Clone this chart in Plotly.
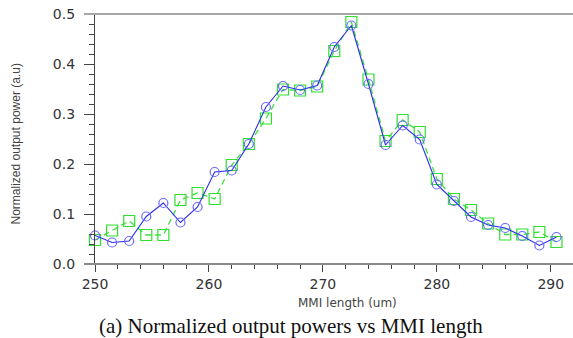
import plotly.graph_objects as go

# MMI length (um)
mmi_length = [250.0, 251.5, 253.0, 254.5, 256.0, 257.5, 259.0, 260.5, 262.0, 263.5,
              265.0, 266.5, 268.0, 269.5, 271.0, 272.5, 274.0, 275.5, 277.0, 278.5,
              280.0, 281.5, 283.0, 284.5, 286.0, 287.5, 289.0, 290.5]

# Series 1: blue circles, solid line
power_circles = [0.057, 0.043, 0.046, 0.095, 0.122, 0.083, 0.114, 0.184, 0.187, 0.240,
                 0.314, 0.356, 0.348, 0.357, 0.434, 0.477, 0.360, 0.238, 0.277, 0.249,
                 0.159, 0.126, 0.094, 0.078, 0.072, 0.056, 0.037, 0.054]

# Series 2: green squares, dashed line
power_squares = [0.048, 0.067, 0.086, 0.058, 0.058, 0.128, 0.142, 0.130, 0.198, 0.240,
                 0.291, 0.349, 0.347, 0.355, 0.426, 0.484, 0.369, 0.246, 0.288, 0.264,
                 0.170, 0.130, 0.108, 0.081, 0.059, 0.059, 0.064, 0.044]

x_ticks = [250, 260, 270, 280, 290]
y_ticks = [0.0, 0.1, 0.2, 0.3, 0.4, 0.5]
y_tick_labels = ["0.0", "0.1", "0.2", "0.3", "0.4", "0.5"]

x_title = "MMI length (um)"
y_title = "Normalized output power (a.u)"
caption = "(a) Normalized output powers vs MMI length"

fig = go.Figure()

fig.add_trace(go.Scatter(
    x=mmi_length, y=power_squares, mode="lines+markers",
    line=dict(color="#3ee23e", width=1.3, dash="6px,4px"),
    marker=dict(symbol="square-open", size=11, color="#2fe02f", line=dict(width=1.2)),
    showlegend=False, cliponaxis=False,
))
fig.add_trace(go.Scatter(
    x=mmi_length, y=power_circles, mode="lines+markers",
    line=dict(color="#2a2af0", width=1.1),
    marker=dict(symbol="circle-open", size=9, color="#6a6aff", line=dict(width=1.2)),
    showlegend=False, cliponaxis=False,
))

tick_font = dict(family="DejaVu Sans", size=14, color="#333333")

fig.update_xaxes(
    range=[250, 291.95], tickvals=x_ticks, ticks="outside", ticklen=7, tickwidth=1.3,
    tickcolor="#444444", showline=False, showgrid=False, zeroline=False,
    tickfont=tick_font,
    minor=dict(dtick=2, tick0=250, ticks="outside", ticklen=4, tickwidth=1.2, tickcolor="#444444"),
)
fig.update_yaxes(
    range=[0, 0.5], tickvals=y_ticks, ticktext=y_tick_labels, ticks="outside", ticklen=10,
    tickwidth=1.3, tickcolor="#444444", showline=True, linecolor="#444444", linewidth=1.3,
    showgrid=False, zeroline=False, tickfont=tick_font, ticklabelstandoff=6,
    minor=dict(dtick=0.02, tick0=0, ticks="outside", ticklen=5, tickwidth=1.2, tickcolor="#444444"),
)

# top border and bottom axis line extending slightly left of the y axis
fig.add_shape(type="line", xref="paper", yref="paper", x0=-0.023, x1=1, y0=1, y1=1,
              line=dict(color="#a8a8a8", width=2))
fig.add_shape(type="line", xref="paper", yref="paper", x0=-0.023, x1=1, y0=0, y1=0,
              line=dict(color="#8a8a8a", width=2))

fig.add_annotation(text=x_title, xref="paper", yref="paper", x=(347 - 95) / 478, y=-39 / 250,
                   showarrow=False, xanchor="center", yanchor="middle",
                   font=dict(family="DejaVu Sans", size=12, color="#444444"))
fig.add_annotation(text=y_title, xref="paper", yref="paper", x=(15 - 95) / 478, y=(264.5 - 145) / 250,
                   showarrow=False, xanchor="center", yanchor="middle", textangle=-90,
                   font=dict(family="Liberation Sans", size=12, color="#444444"))
fig.add_annotation(text=caption, xref="paper", yref="paper", x=(291 - 95) / 478, y=-(326 - 264.5) / 250,
                   showarrow=False, xanchor="center", yanchor="middle",
                   font=dict(family="Liberation Serif", size=21, color="#111111"))

fig.update_layout(
    width=573, height=338, margin=dict(l=95, r=0, t=14, b=74),
    paper_bgcolor="white", plot_bgcolor="white",
)

fig.write_html("out.html")
